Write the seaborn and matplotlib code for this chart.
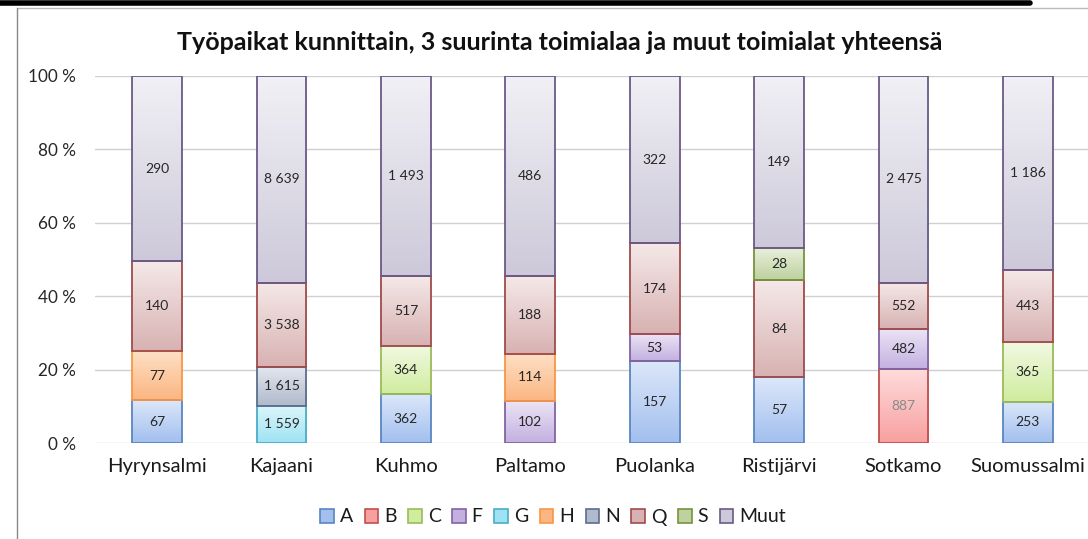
import numpy as np
import pandas as pd
import matplotlib
matplotlib.use('Agg')
import matplotlib.pyplot as plt
import matplotlib.colors as mcolors
from matplotlib.patches import Patch
from matplotlib.lines import Line2D
import seaborn as sns

# --- DATA ---
kunnat = ['Hyrynsalmi', 'Kajaani', 'Kuhmo', 'Paltamo', 'Puolanka', 'Ristijärvi', 'Sotkamo', 'Suomussalmi']
toimialat = ['A', 'B', 'C', 'F', 'G', 'H', 'N', 'Q', 'S', 'Muut']

A = [67, 0, 362, 0, 157, 57, 0, 253]
B = [0, 0, 0, 0, 0, 0, 887, 0]
C = [0, 0, 364, 0, 0, 0, 0, 365]
F = [0, 0, 0, 102, 53, 0, 482, 0]
G = [0, 1559, 0, 0, 0, 0, 0, 0]
H = [77, 0, 0, 114, 0, 0, 0, 0]
N = [0, 1615, 0, 0, 0, 0, 0, 0]
Q = [140, 3538, 517, 188, 174, 84, 552, 443]
S = [0, 0, 0, 0, 0, 28, 0, 0]
Muut = [290, 8639, 1493, 486, 322, 149, 2475, 1186]

title = 'Työpaikat kunnittain, 3 suurinta toimialaa ja muut toimialat yhteensä'

# --- STYLE ---
# (vaalea yläosa, tummempi alaosa, reunaviiva)
tyylit = {
    'A':    ('#DCE7F9', '#A2BFEF', '#5A86C0'),
    'B':    ('#FFDCDC', '#F8A0A0', '#C0504D'),
    'C':    ('#F1F9E2', '#D0EC9E', '#9BBB59'),
    'F':    ('#ECE5F5', '#C3B0E0', '#8064A2'),
    'G':    ('#DDF6FB', '#9DE3F3', '#4BACC6'),
    'H':    ('#FEE0C6', '#FBB682', '#F79646'),
    'N':    ('#E2E6EE', '#B0BACC', '#5A6E8E'),
    'Q':    ('#F5E8E8', '#D8B2B2', '#A04B4B'),
    'S':    ('#E9F0DE', '#BED19E', '#77933C'),
    'Muut': ('#F1F0F5', '#CDC9DA', '#6A5A86'),
}

sns.set_theme(style='white')
plt.rcParams['font.family'] = ['Lato', 'DejaVu Sans']

df = pd.DataFrame({'kunta': kunnat, 'A': A, 'B': B, 'C': C, 'F': F, 'G': G, 'H': H,
                   'N': N, 'Q': Q, 'S': S, 'Muut': Muut}).set_index('kunta')
pct = df.div(df.sum(axis=1), axis=0)
bottoms = pct.cumsum(axis=1) - pct

fig = plt.figure(figsize=(10.88, 5.39), dpi=100)
ax = fig.add_axes([95 / 1088, 1 - 443 / 539, 995 / 1088, 367 / 539])

for t in toimialat:
    mask = df[t] > 0
    x_sub = list(df.index[mask])
    y_sub = pct.loc[mask, t].values
    b_sub = bottoms.loc[mask, t].values
    n_before = len(ax.patches)
    top_c, bot_c, edge_c = tyylit[t]
    sns.barplot(x=x_sub, y=y_sub, order=kunnat, bottom=b_sub, color=bot_c,
                width=0.4, errorbar=None, edgecolor=edge_c, linewidth=1.3,
                saturation=1, ax=ax)
    new_patches = ax.patches[n_before:]
    cmap = mcolors.LinearSegmentedColormap.from_list(t, [bot_c, top_c])
    grad = np.linspace(0, 1, 64).reshape(-1, 1)
    for p, val in zip(new_patches, df.loc[mask, t].values):
        x0, y0 = p.get_x(), p.get_y()
        w, h = p.get_width(), p.get_height()
        im = ax.imshow(grad, cmap=cmap, origin='lower', aspect='auto',
                       extent=(x0, x0 + w, y0, y0 + h), zorder=p.get_zorder() - 0.1)
        im.set_clip_path(p)
        p.set_facecolor('none')
        txt = f'{val:,}'.replace(',', ' ')
        ax.text(x0 + w / 2, y0 + h / 2, txt, ha='center', va='center', fontsize=10,
                color='#8A8A8A' if t == 'B' else '#262626', zorder=5)

ax.set_xlim(-0.5, 7.5)
ax.set_ylim(0, 1)
ax.set_yticks([0, 0.2, 0.4, 0.6, 0.8, 1.0])
ax.set_yticklabels(['0 %', '20 %', '40 %', '60 %', '80 %', '100 %'])
ax.yaxis.grid(True, color='#D0D0D0', linewidth=1)
ax.set_axisbelow(True)
ax.tick_params(axis='y', length=0, pad=14, labelsize=12.3, labelcolor='#262626')
ax.tick_params(axis='x', length=0, pad=11, labelsize=14.5, labelcolor='#1A1A1A')
ax.set_xlabel('')
ax.set_ylabel('')
for s in ['top', 'right', 'left', 'bottom']:
    ax.spines[s].set_visible(False)

fig.text(560 / 1088, 1 - 42 / 539, title, ha='center', va='center',
         fontsize=18, fontweight='bold', color='#111111')

handles = [Patch(facecolor=tyylit[t][1], edgecolor=tyylit[t][2], linewidth=1.2, label=t)
           for t in toimialat]
fig.legend(handles=handles, loc='center', bbox_to_anchor=(553 / 1088, 1 - 517 / 539),
           ncol=10, frameon=False, fontsize=14, handlelength=0.7, handleheight=0.7,
           handletextpad=0.3, columnspacing=0.6, labelcolor='#1A1A1A')

# kaavion kehys
fig.add_artist(Line2D([0, 1030 / 1088], [1 - 2.5 / 539] * 2, color='black', linewidth=4))
fig.add_artist(Line2D([17 / 1088, 1], [1 - 8 / 539] * 2, color='#BBBBBB', linewidth=1))
fig.add_artist(Line2D([17 / 1088] * 2, [0, 1 - 8 / 539], color='#888888', linewidth=1))

fig.savefig('out.png', dpi=100)
